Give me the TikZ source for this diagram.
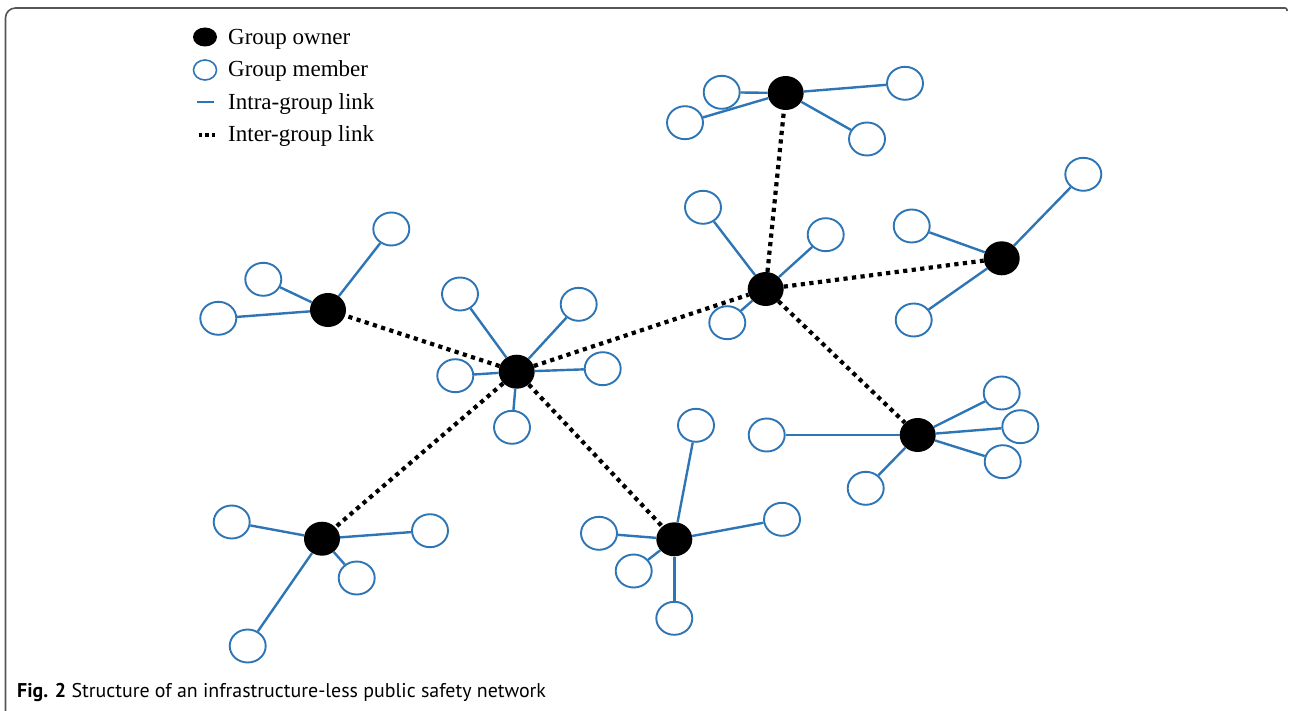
\documentclass[tikz,border=0pt]{standalone}
\usepackage{fontspec}
\setmainfont{Liberation Serif}
\newfontfamily\capfont{PT Sans}
\usetikzlibrary{shapes.geometric}
\definecolor{linkblue}{RGB}{46,117,182}
\definecolor{framegray}{RGB}{85,85,85}
\tikzset{
  member/.style={ellipse, draw=linkblue, line width=1.9pt, fill=white, minimum width=36pt, minimum height=33pt, inner sep=0pt},
  owner/.style={ellipse, fill=black, minimum width=36pt, minimum height=34pt, inner sep=0pt},
  intra/.style={draw=linkblue, line width=2.4pt},
  inter/.style={draw=black, line width=4.2pt, dash pattern=on 4.2pt off 4.4pt},
  legtext/.style={anchor=base west, inner sep=0pt, font=\fontsize{23}{26}\selectfont}
}
\begin{document}
\begin{tikzpicture}[x=1pt,y=-1pt]
\useasboundingbox (0,0) rectangle (1289,711);
% frame
\draw[framegray, line width=1.6pt, rounded corners=10pt] (5.5,711) -- (5.5,8) -- (1284,8);
\draw[framegray, line width=1.6pt, rounded corners=2pt] (1283,8) -- (1287,8) -- (1287,11);

% legend
\node[owner, minimum width=24pt, minimum height=19pt] (lgo) at (205,37) {};
\node[member, minimum width=23pt, minimum height=20pt, line width=1.6pt] (lgm) at (205,70) {};
\coordinate (lgl1) at (197,102);
\coordinate (lgl2) at (214,102);
\draw[intra, line width=2pt] (lgl1) -- (lgl2);
\coordinate (lgd1) at (199,135);
\coordinate (lgd2) at (217,135);
\draw[line width=3.2pt, dash pattern=on 3.2pt off 3.2pt] (lgd1) -- (lgd2);
\node[legtext] (t1) at (228,45) {Group owner};
\node[legtext] (t2) at (228,77) {Group member};
\node[legtext] (t3) at (228,110) {Intra-group link};
\node[legtext] (t4) at (228,142) {Inter-group link};

% owners
\node[owner] (O1) at (785.7,93) {};
\node[owner] (O2) at (1001.7,258.3) {};
\node[owner] (O3) at (765.7,289) {};
\node[owner] (O4) at (328,310) {};
\node[owner] (O5) at (516.7,371.7) {};
\node[owner] (O6) at (917.7,435) {};
\node[owner] (O7) at (322,538.7) {};
\node[owner] (O8) at (674.3,539.3) {};

% members
\node[member] (m1a) at (721.7,92.3) {};
\node[member] (m1b) at (685,122.7) {};
\node[member] (m1c) at (905,83.3) {};
\node[member] (m1d) at (867,139) {};

\node[member] (m2a) at (1083.3,174.3) {};
\node[member] (m2b) at (911.7,226) {};
\node[member] (m2c) at (913.7,320) {};

\node[member] (m3a) at (703,207.3) {};
\node[member] (m3b) at (825.7,234.7) {};
\node[member] (m3c) at (727.3,322.7) {};

\node[member] (m4a) at (391.3,229) {};
\node[member] (m4b) at (263.3,279.3) {};
\node[member] (m4c) at (218.3,318.3) {};

\node[member] (m5a) at (460,294) {};
\node[member] (m5b) at (578.7,304.3) {};
\node[member] (m5c) at (455.3,375.7) {};
\node[member] (m5d) at (602.7,368.7) {};
\node[member] (m5e) at (512,427.3) {};

\node[member] (m6a) at (766.7,435) {};
\node[member] (m6b) at (1001.7,393) {};
\node[member] (m6c) at (1020.3,426.7) {};
\node[member] (m6d) at (1002.7,461.7) {};
\node[member] (m6e) at (865.7,488.3) {};

\node[member] (m7a) at (231.7,522) {};
\node[member] (m7b) at (430,530.7) {};
\node[member] (m7c) at (356.7,578) {};
\node[member] (m7d) at (247.7,646) {};

\node[member] (m8a) at (696,425.3) {};
\node[member] (m8b) at (599,533.3) {};
\node[member] (m8c) at (782,519.3) {};
\node[member] (m8d) at (633.7,571) {};
\node[member] (m8e) at (674.3,618.3) {};

% intra-group links
\foreach \o/\m in {O1/m1a,O1/m1b,O1/m1c,O1/m1d,
                   O2/m2a,O2/m2b,O2/m2c,
                   O3/m3a,O3/m3b,O3/m3c,
                   O4/m4a,O4/m4b,O4/m4c,
                   O5/m5a,O5/m5b,O5/m5c,O5/m5d,O5/m5e,
                   O6/m6a,O6/m6b,O6/m6c,O6/m6d,O6/m6e,
                   O7/m7a,O7/m7b,O7/m7c,O7/m7d,
                   O8/m8a,O8/m8b,O8/m8c,O8/m8d,O8/m8e}
  \draw[intra] (\o) -- (\m);

% inter-group links
\foreach \a/\b in {O5/O4,O5/O3,O5/O7,O5/O8,O3/O1,O3/O2,O3/O6}
  \draw[inter] (\a) -- (\b);

% caption
\node[anchor=base west, inner sep=0pt, font=\capfont\fontsize{19.9}{23}\selectfont] (cap) at (17,697)
  {\textbf{Fig. 2} Structure of an infrastructure-less public safety network};
\end{tikzpicture}
\end{document}
